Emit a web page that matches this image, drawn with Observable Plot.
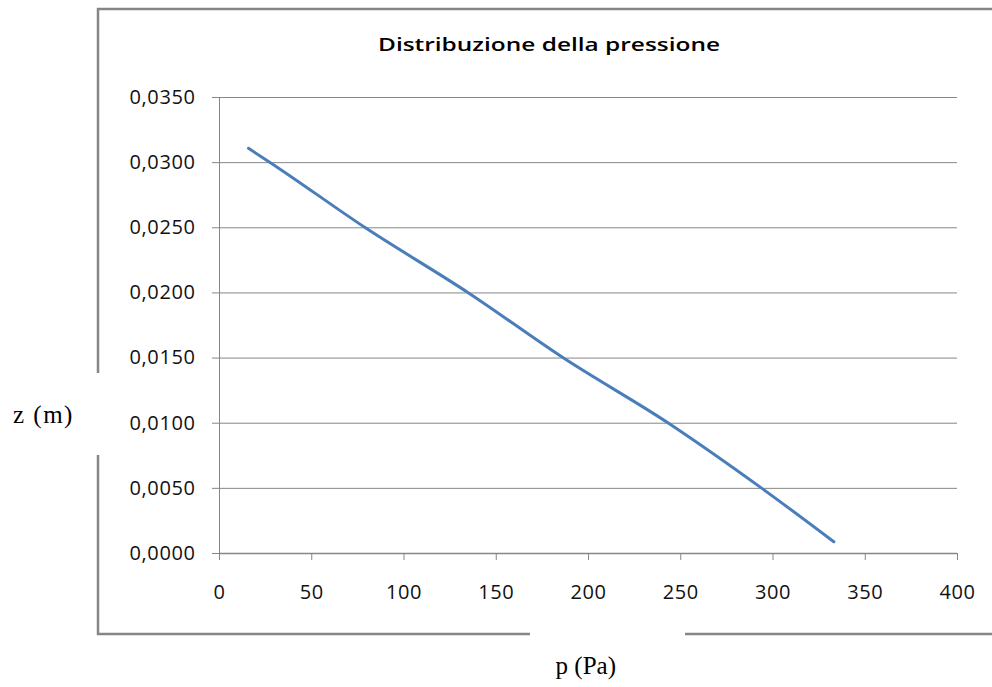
<!DOCTYPE html>
<html>
<head>
<meta charset="utf-8">
<script src="https://cdn.jsdelivr.net/npm/d3@7"></script>
<script src="https://cdn.jsdelivr.net/npm/@observablehq/plot@0.6"></script>
<style>
  html, body { margin: 0; padding: 0; background: #fff; }
  #chart { position: relative; width: 992px; height: 687px; }
</style>
</head>
<body>
<div id="chart"></div>
<script>
// Data (p in Pa, z in m)
const pressure = [15.7, 27.6, 79.1, 135.0, 186.5, 243.4, 294.0, 333.0];
const height   = [0.0311, 0.0300, 0.0250, 0.0200, 0.0150, 0.0100, 0.0050, 0.0009];
const xTicks = [0, 50, 100, 150, 200, 250, 300, 350, 400];
const yTicks = [0, 0.005, 0.010, 0.015, 0.020, 0.025, 0.030, 0.035];
const titleText = "Distribuzione della pressione";
const xLabel = "p (Pa)";
const yLabel = "z (m)";

const data = pressure.map((p, i) => ({p, z: height[i]}));
const fmt = v => d3.format(".4f")(v).replace(".", ",");
const grey = "#868686";

const plot = Plot.plot({
  width: 992,
  height: 687,
  marginLeft: 219,
  marginRight: 35,
  marginTop: 97,
  marginBottom: 134,
  style: {fontFamily: "'Open Sans', sans-serif", fontSize: "20px", color: "#111", background: "#fff"},
  x: {domain: [0, 400]},
  y: {domain: [0, 0.035]},
  marks: [
    Plot.gridY(yTicks, {stroke: grey, strokeOpacity: 1, strokeWidth: 1}),
    Plot.axisY(yTicks, {tickSize: 7, tickPadding: 17, tickFormat: fmt, stroke: grey, strokeOpacity: 1, label: null}),
    Plot.axisX(xTicks, {tickSize: 7, tickPadding: 24, tickFormat: d => String(d), stroke: grey, strokeOpacity: 1, label: null}),
    Plot.ruleX([0], {stroke: grey, strokeWidth: 1}),
    Plot.ruleY([0], {stroke: grey, strokeWidth: 1.5}),
    Plot.line(data, {x: "p", y: "z", stroke: "#4a7ebb", strokeWidth: 3, curve: "monotone-x"})
  ]
});

document.getElementById("chart").appendChild(plot);

const svg = d3.select(plot);
svg.selectAll("g[aria-label='y-axis tick label'] text, g[aria-label='x-axis tick label'] text")
  .attr("letter-spacing", "0.6px");

// outer frame (interrupted around the axis titles)
const frame = svg.append("g").attr("stroke", grey).attr("stroke-width", 2.5);
[[97, 9, 992, 9], [98, 8, 98, 373], [98, 455, 98, 635], [97, 634, 530, 634], [685, 634, 992, 634]]
  .forEach(([x1, y1, x2, y2]) => frame.append("line").attr("x1", x1).attr("y1", y1).attr("x2", x2).attr("y2", y2));

svg.append("text")
  .attr("x", 549).attr("y", 51)
  .attr("text-anchor", "middle")
  .attr("font-family", "'Open Sans', sans-serif")
  .attr("font-weight", 600)
  .attr("font-size", 18)
  .attr("textLength", 342).attr("lengthAdjust", "spacingAndGlyphs")
  .attr("fill", "#000")
  .text(titleText);

svg.append("text")
  .attr("x", 13).attr("y", 423)
  .attr("text-anchor", "start")
  .attr("font-family", "'Liberation Serif', serif")
  .attr("font-size", 25)
  .attr("letter-spacing", "1.5px")
  .attr("fill", "#000")
  .text(yLabel);

svg.append("text")
  .attr("x", 616).attr("y", 674)
  .attr("text-anchor", "end")
  .attr("font-family", "'Liberation Serif', serif")
  .attr("font-size", 25)
  .attr("fill", "#000")
  .text(xLabel);
</script>
</body>
</html>
